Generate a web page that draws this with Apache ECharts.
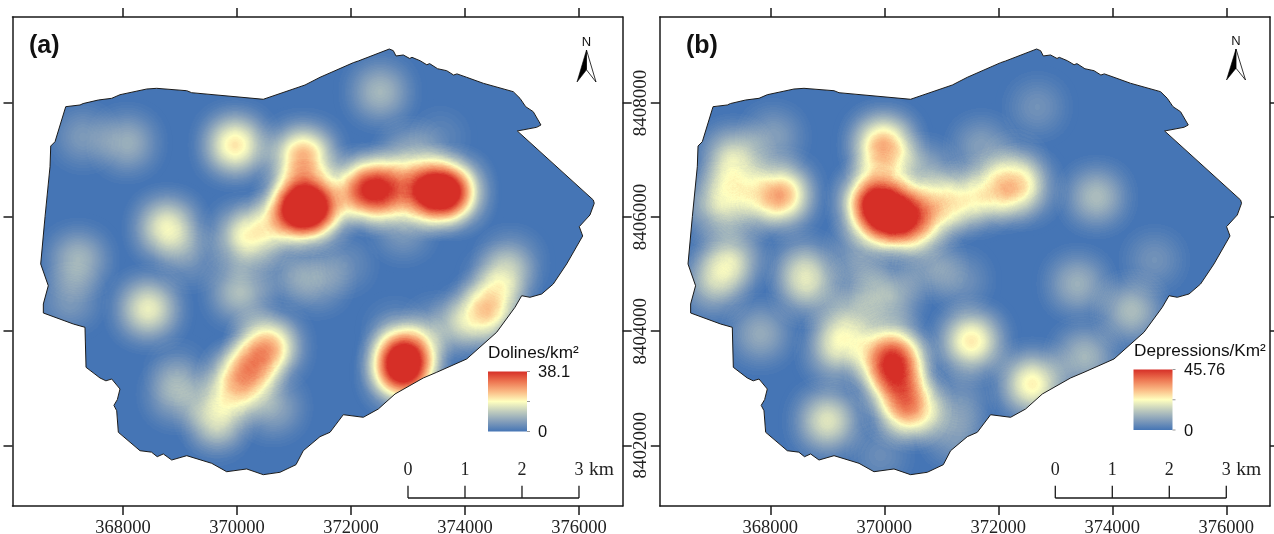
<!DOCTYPE html>
<html><head><meta charset="utf-8">
<style>html,body{margin:0;padding:0;background:#fff}#c{width:1274px;height:534px}</style>
<script src="https://cdn.jsdelivr.net/npm/echarts@6/dist/echarts.min.js"></script>
</head><body><div id="c"></div>
<script>
const xTicks=[368000,370000,372000,374000,376000];
const yTicks=[8402000,8404000,8406000,8408000];
const xExtent=[366061,376767];
const yExtent=[8400936,8409507];
const scaleKm=[0,1,2,3];
const rampColors=['#4575b5','#849eba','#c0ccbe','#ffffbf','#fab984','#ed7551','#d62f27'];
const dolinesMax=38.1;
const depressionsMax=45.76;

const boundary=[[366995,8407935],[367246,8407965],[367300,8407990],[367567,8408052],[367802,8408082],[367947,8408145],[368416,8408245],[368591,8408257],[369118,8408215],[369205,8408180],[370461,8408065],[371193,8408315],[371456,8408450],[372040,8408706],[372128,8408736],[372672,8408946],[372742,8408917],[372790,8408824],[372918,8408841],[373030,8408780],[373070,8408800],[373211,8408741],[373330,8408670],[373380,8408690],[373520,8408600],[373679,8408566],[373800,8408490],[373860,8408510],[374030,8408450],[374321,8408345],[374847,8408198],[374965,8408082],[375065,8407935],[375198,8407847],[375333,8407614],[375258,8407574],[374918,8407509],[376251,8406300],[376268,8406242],[376193,8406037],[376005,8405832],[376065,8405669],[375784,8405178],[375549,8404827],[375346,8404652],[375140,8404594],[374995,8404622],[374877,8404419],[374556,8403981],[374030,8403513],[373504,8403280],[373268,8403180],[372772,8402899],[372479,8402636],[372216,8402491],[371865,8402536],[371632,8402228],[371456,8402151],[371163,8401905],[371035,8401660],[370754,8401527],[370461,8401485],[370170,8401585],[369819,8401537],[369556,8401684],[369118,8401818],[368854,8401742],[368707,8401848],[368600,8401800],[368500,8401880],[368298,8401905],[367918,8402228],[367889,8402606],[367840,8402700],[367900,8402800],[367947,8402987],[367802,8403162],[367700,8403130],[367596,8403180],[367351,8403367],[367333,8404068],[367128,8404126],[366602,8404319],[366602,8404477],[366689,8404797],[366556,8405178],[366632,8406007],[366719,8406883],[366732,8407246],[366807,8407321]];

const dolines=[[371157,8407054,26],[371052,8406160,34],[371333,8406160,34],[372192,8406475,24],[372543,8406475,28],[372981,8406510,4],[373385,8406440,33],[373736,8406440,33],[373034,8407054,9],[372911,8405774,6],[372894,8403285,31],[372946,8403565,31],[369964,8407264,21],[368772,8405809,18],[370140,8405651,16],[370543,8405774,9],[368070,8407299,9],[367298,8407404,6],[367211,8405248,10],[372508,8408193,10],[373560,8407404,3],[374788,8405196,8],[374613,8404828,11],[374402,8404354,18],[374051,8404179,9],[373508,8404021,7],[368439,8404389,17],[370052,8404687,11],[370578,8403723,19],[370420,8403700,8],[370300,8403420,6],[370087,8403127,19],[369960,8403200,7],[369649,8402549,13],[370631,8402671,8],[369649,8402268,5],[368947,8402899,9],[368947,8403285,4],[367070,8404547,6],[371403,8404880,7],[369175,8405283,5],[370929,8404985,5],[371894,8405161,4],[372771,8404021,4]];

const depressions=[[369807,8406247,41],[370105,8406020,34],[370368,8405914,24],[370719,8406055,17],[371157,8406230,15],[371596,8406353,14],[372069,8406475,16],[372420,8406528,17],[369982,8407264,30],[369982,8406791,7],[368175,8406388,32],[367351,8407036,18],[367351,8406563,9],[367035,8406212,14],[367561,8406212,9],[367298,8405248,17],[367000,8404828,13],[369351,8404074,15],[369160,8403653,15],[370105,8403636,26],[370105,8403285,28],[370368,8403408,9],[370368,8402724,28],[370561,8402584,12],[369000,8402426,19],[370105,8404600,12],[368649,8404775,13],[371526,8403828,25],[372595,8403075,24],[373508,8403548,12],[374332,8404354,13],[373718,8406353,13],[373385,8404828,11],[374735,8405248,6],[367825,8403951,10],[368053,8407404,8],[368579,8405126,11],[369579,8405418,8],[370806,8405155,8],[371333,8404898,6],[372683,8407930,6],[371701,8407229,8],[372297,8406914,6],[370684,8406773,11],[371227,8402198,8],[369929,8401825,5],[371333,8402794,6],[369579,8404722,7]];

const FW=610.2,FH=489,TOP=17,LEFTS=[12.5,659.8];
const aspect=(FW/FH)/((xExtent[1]-xExtent[0])/(yExtent[1]-yExtent[0]));
const SERIF='"Liberation Serif",serif',SANS='"Liberation Sans",sans-serif';
const DARK='#1a1a1a';
// the kernel's peak alpha is well below 1, so the ramp ends early and saturates in the top red
const heatColors=rampColors.concat(new Array(13).fill(rampColors[6]));

echarts.registerMap('basin',{type:'FeatureCollection',features:[{type:'Feature',properties:{name:'basin'},geometry:{type:'Polygon',coordinates:[boundary.concat([boundary[0]])]}}]});

function overlay(params,api){
  const corners=[[xExtent[0],yExtent[1]],[xExtent[1],yExtent[1]],[xExtent[1],yExtent[0]],[xExtent[0],yExtent[0]]].map(p=>api.coord(p));
  const inner=boundary.map(p=>api.coord(p));
  const maskPts=corners.concat([corners[0]],[inner[0]],inner.slice().reverse());
  const kids=[
    {type:'polygon',shape:{points:maskPts},style:{fill:'#fff',stroke:null}},
    {type:'polygon',shape:{points:inner},style:{fill:null,stroke:DARK,lineWidth:1}}
  ];
  const barY=8401076, tickY=8401290, x0=373000;
  const a=api.coord([x0,barY]), b=api.coord([x0+3000,barY]);
  kids.push({type:'line',shape:{x1:a[0],y1:a[1],x2:b[0],y2:b[1]},style:{stroke:DARK,lineWidth:1.3}});
  scaleKm.forEach(k=>{
    const p=api.coord([x0+k*1000,barY]), q=api.coord([x0+k*1000,tickY]);
    kids.push({type:'line',shape:{x1:p[0],y1:p[1],x2:q[0],y2:q[1]},style:{stroke:DARK,lineWidth:1.3}});
    kids.push({type:'text',style:{text:String(k),x:q[0],y:q[1]-16,align:'center',verticalAlign:'middle',font:'18px '+SERIF,fill:'#222'}});
    if(k===3) kids.push({type:'text',style:{text:'km',x:q[0]+10,y:q[1]-16,align:'left',verticalAlign:'middle',font:'19.5px '+SERIF,fill:'#222'}});
  });
  return {type:'group',children:kids};
}

function axes(i){
  const common={z:10,axisLine:{onZero:false,lineStyle:{color:DARK,width:1.5}},splitLine:{show:false}};
  const tick=v=>({show:true,length:9,customValues:v,lineStyle:{color:DARK,width:1.5}});
  const xa=[
    Object.assign({type:'value',gridIndex:i,min:xExtent[0],max:xExtent[1],position:'bottom',axisTick:tick(xTicks),
      axisLabel:{show:true,customValues:xTicks,formatter:v=>String(v),margin:13,fontFamily:SERIF,fontSize:18.5,color:'#222',hideOverlap:false}},common),
    Object.assign({type:'value',gridIndex:i,min:xExtent[0],max:xExtent[1],position:'top',axisTick:tick(xTicks),axisLabel:{show:false}},common)
  ];
  const ya=[
    Object.assign({type:'value',gridIndex:i,min:yExtent[0],max:yExtent[1],position:'left',axisTick:tick(yTicks),
      axisLabel:i===1?{show:true,customValues:yTicks,formatter:v=>String(v),rotate:90,margin:9,fontFamily:SERIF,fontSize:19,color:'#222'}:{show:false}},common),
    Object.assign({type:'value',gridIndex:i,min:yExtent[0],max:yExtent[1],position:'right',axisTick:tick(yTicks),axisLabel:{show:false}},common)
  ];
  return {xa,ya};
}
const A0=axes(0),A1=axes(1);

function txt(text,x,y,font,extra){return {type:'text',z:100,style:Object.assign({text,x,y,font,fill:'#111',verticalAlign:'middle'},extra||{})};}
function north(cx,tip,h,w){
  return [
    {type:'polygon',z:100,shape:{points:[[cx,tip],[cx-w,tip+h],[cx,tip+h*0.62]]},style:{fill:'#000',stroke:'#000',lineWidth:0.6}},
    {type:'polygon',z:100,shape:{points:[[cx,tip],[cx+w,tip+h],[cx,tip+h*0.62]]},style:{fill:'#fff',stroke:'#000',lineWidth:0.8}},
    txt('N',cx,tip-8,'13px '+SANS,{align:'center'})
  ];
}
function legendRamp(x,top,w,h){
  const stops=rampColors.map((c,i)=>({offset:1-i/(rampColors.length-1),color:c}));
  return [{type:'rect',z:100,shape:{x,y:top,width:w,height:h},style:{fill:new echarts.graphic.LinearGradient(0,0,0,1,stops)}}]
    .concat([0,0.5,1].map(f=>({type:'line',z:100,shape:{x1:x+w,y1:top+h*f,x2:x+w+3,y2:top+h*f},style:{stroke:'#999',lineWidth:1}})));
}
const graphicEls=[].concat(
  [txt('(a)',29,46,'bold 25px '+SANS),txt('(b)',686,46,'bold 25px '+SANS)],
  north(586.5,50,32,9.5),north(1236,49,31,9.5),
  [txt('Dolines/km²',488,353,'17.2px '+SANS),txt(String(dolinesMax),538,372,'16.5px '+SANS),txt('0',538,432,'16.5px '+SANS)],
  [txt('Depressions/Km²',1134,351,'17.2px '+SANS),txt(String(depressionsMax),1184,370,'16.5px '+SANS),txt('0',1184,431,'16.5px '+SANS)],
  legendRamp(488,371.5,39,60),legendRamp(1133.5,369.5,39,60.5)
);

function geoOpt(i){
  return {map:'basin',roam:false,silent:true,left:LEFTS[i],top:TOP,width:FW,height:FH,aspectScale:aspect,
    boundingCoords:[[xExtent[0],yExtent[1]],[xExtent[1],yExtent[0]]],
    label:{show:false},itemStyle:{areaColor:'#4575b5',borderColor:'#4575b5',borderWidth:0},emphasis:{disabled:true},select:{disabled:true},z:0};
}
const chart=echarts.init(document.getElementById('c'),null,{renderer:'canvas'});
chart.setOption({
  animation:false,backgroundColor:'#fff',
  grid:LEFTS.map(l=>({left:l,top:TOP,width:FW,height:FH,containLabel:false,outerBoundsMode:'none'})),
  xAxis:A0.xa.concat(A1.xa),
  yAxis:A0.ya.concat(A1.ya),
  geo:[geoOpt(0),geoOpt(1)],
  visualMap:[
    {type:'continuous',show:false,seriesIndex:0,min:0,max:dolinesMax,inRange:{color:heatColors}},
    {type:'continuous',show:false,seriesIndex:1,min:0,max:depressionsMax,inRange:{color:heatColors}}
  ],
  series:[
    {type:'heatmap',coordinateSystem:'geo',geoIndex:0,data:dolines,pointSize:16,blurSize:36,minOpacity:1,maxOpacity:1,z:2,silent:true},
    {type:'heatmap',coordinateSystem:'geo',geoIndex:1,data:depressions,pointSize:16,blurSize:36,minOpacity:1,maxOpacity:1,z:2,silent:true},
    {type:'custom',coordinateSystem:'geo',geoIndex:0,data:[[xExtent[0],yExtent[0]]],renderItem:overlay,z:5,silent:true,clip:false},
    {type:'custom',coordinateSystem:'geo',geoIndex:1,data:[[xExtent[0],yExtent[0]]],renderItem:overlay,z:5,silent:true,clip:false}
  ],
  graphic:{elements:graphicEls}
});
</script></body></html>
